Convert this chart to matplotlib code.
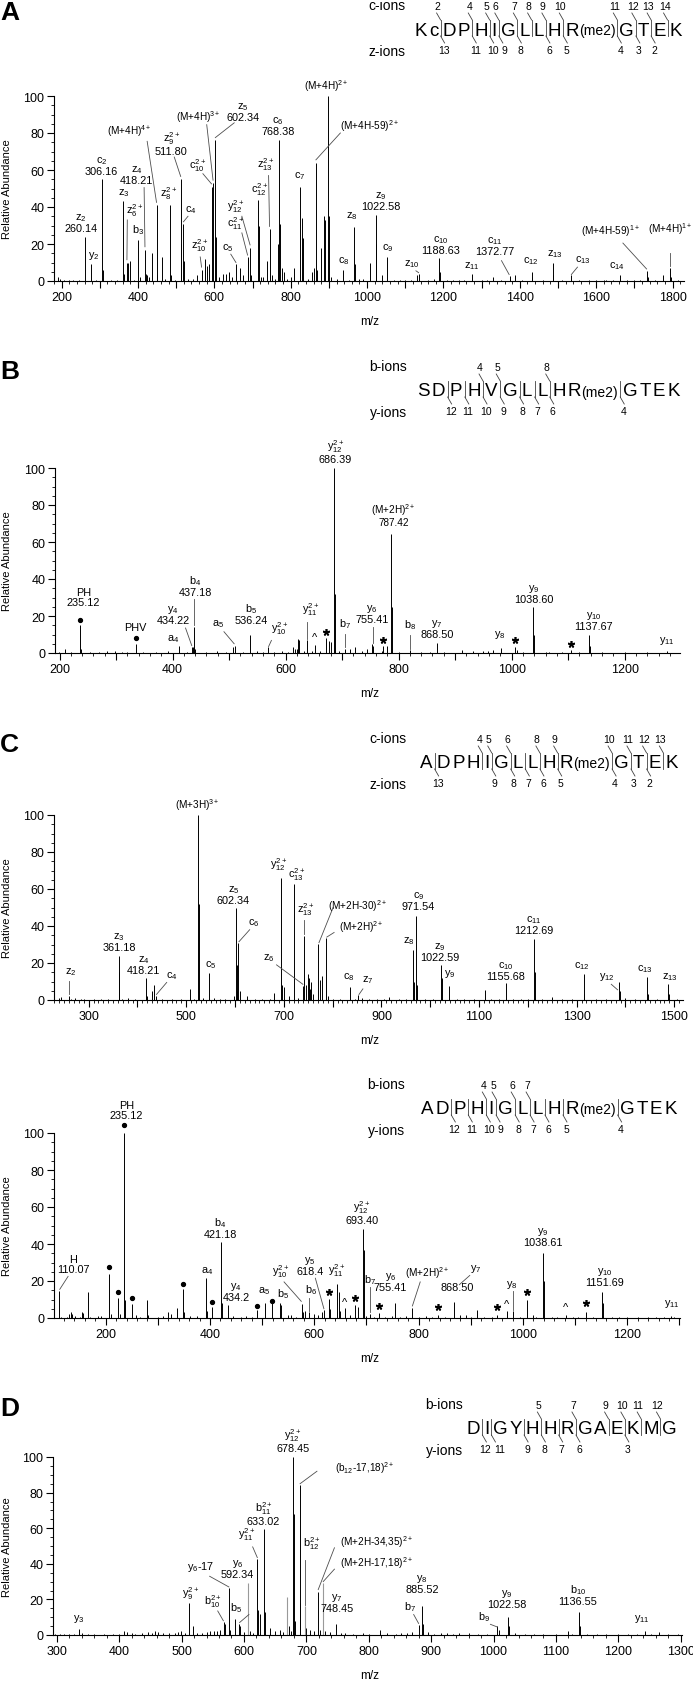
import matplotlib
matplotlib.use("Agg")
import matplotlib.pyplot as plt
from matplotlib.ticker import MultipleLocator, FuncFormatter

plt.rcParams['font.family'] = ['Liberation Sans', 'DejaVu Sans']
plt.rcParams['mathtext.fontset'] = 'custom'
plt.rcParams['mathtext.rm'] = 'Liberation Sans'
plt.rcParams['mathtext.it'] = 'Liberation Sans:italic'
plt.rcParams['mathtext.bf'] = 'Liberation Sans:bold'
plt.rcParams['mathtext.default'] = 'regular'

# ---------------- panel A (ETD, KcDPHIGLLHR(me2)GTEK) ----------------
a_peaks = [
    (191, 2), (196, 1.2), (205, 0.6), (218, 0.4), (230, 0.5), (245, 0.6),
    (260.14, 24), (276.5, 9), (290, 0.5), (306.16, 55), (309, 6), (330, 0.8), (345, 0.5),
    (361.5, 43), (364, 4), (370.5, 10), (374, 10), (378, 11), (390, 0.6),
    (400.5, 22), (404, 2), (418.21, 17), (421, 4), (424, 3), (428, 2), (435.5, 15),
    (448.5, 41), (451, 3), (462.5, 13), (470, 1), (484.5, 41), (487, 3), (498, 0.8),
    (511.8, 55), (513, 20), (518.5, 31), (520, 11), (530, 1), (545, 1), (555, 3), (566.5, 6),
    (576, 12), (582, 8), (585, 9), (592.5, 51), (596.5, 53), (602.34, 76), (604, 24), (612, 2),
    (622, 4), (630, 4), (638, 5), (646, 2), (656.5, 9), (666, 7), (675, 3), (687, 13), (689, 12),
    (693.5, 18), (696, 3), (715, 44), (717, 30), (722, 2), (727, 2), (739, 11), (744.5, 28),
    (747, 3), (752, 3), (760, 1), (766, 20), (768.38, 76), (771, 31), (778, 7), (782, 5), (790, 1),
    (800, 2), (808.5, 7), (824.5, 51), (829, 34), (832, 23), (845, 1), (855, 5), (860, 7),
    (866, 64), (869, 6), (878, 18), (887, 35), (891, 33), (897, 100), (899, 35), (905, 2), (920, 1),
    (938, 6), (952, 0.8), (966, 29.4), (967.5, 9), (980, 1), (990, 1), (1008, 9.5), (1022.58, 35.5),
    (1024, 20), (1038, 3), (1051.5, 13), (1070, 0.8), (1085, 0.5), (1100, 0.6), (1115, 0.5),
    (1130, 3), (1136, 4), (1160, 0.8), (1175, 1), (1189, 12.6), (1191, 5), (1210, 0.5), (1225, 0.5),
    (1240, 0.6), (1255, 0.4), (1274, 3.6), (1300, 0.5), (1315, 0.4), (1330, 2), (1350, 0.5),
    (1373, 2.7), (1387, 3), (1405, 0.5), (1431, 5), (1433, 2), (1460, 0.5), (1486, 9.5), (1488, 3),
    (1510, 0.5), (1533, 3), (1555, 0.4), (1580, 0.5), (1600, 0.4), (1620, 0.8), (1625, 0.6),
    (1645, 0.4), (1662, 3), (1680, 0.4), (1700, 0.6), (1715, 0.5), (1733.5, 5.4), (1736, 2),
    (1755, 0.5), (1775, 3.4), (1793, 7), (1795, 2), (1815, 0.4),
]
# (text, x, y, leader) - leader is (x0, y0, x1, y1) or None
a_labels = [
    ("z$_2$\n260.14", 250, 26, None),
    ("y$_2$", 283, 11, None),
    ("c$_2$\n306.16", 304, 57, None),
    ("z$_3$", 362, 45, None),
    ("z$_6^{2+}$", 392, 34, (372, 33, 371, 11.5)),
    ("b$_3$", 400, 24.5, None),
    ("z$_4$\n418.21", 397, 52, (416, 50.5, 418.2, 18.5)),
    ("(M+4H)$^{4+}$", 377, 77.5, (424, 75.5, 448.5, 42.5)),
    ("z$_9^{2+}$\n511.80", 487, 67.5, (495, 67, 511.8, 56.5)),
    ("z$_8^{2+}$", 481, 43, None),
    ("c$_4$", 538, 35.5, (531, 35, 519, 32)),
    ("c$_{10}^{2+}$", 555, 58.5, (570, 58, 592.5, 52.5)),
    ("(M+4H)$^{3+}$", 557, 85, (580, 84.5, 596.5, 54.5)),
    ("z$_5$\n602.34", 675, 86, (652, 85.5, 602.5, 77.5)),
    ("c$_6$\n768.38", 767, 78.5, None),
    ("z$_{10}^{2+}$", 561, 15.3, (563, 13, 566.5, 7.5)),
    ("c$_5$", 634, 15, (643, 14.5, 656.5, 10)),
    ("c$_{11}^{2+}$", 656, 27, (672, 26, 687, 14)),
    ("y$_{12}^{2+}$", 656, 36, (672, 35, 693.5, 19.5)),
    ("c$_{12}^{2+}$", 719, 45.5, None),
    ("z$_{13}^{2+}$", 734, 59, (742, 57, 744.5, 29.5)),
    ("c$_7$", 823, 54, None),
    ("(M+4H)$^{2+}$", 894, 101.5, None),
    ("(M+4H-59)$^{2+}$", 1005, 80, (930, 80, 866, 65.5)),
    ("c$_8$", 938, 8, None),
    ("z$_8$", 961, 32.5, None),
    ("z$_9$\n1022.58", 1035, 38, None),
    ("c$_9$", 1053, 15.3, None),
    ("z$_{10}$", 1118, 6.7, (1128, 5.5, 1135, 4.5)),
    ("c$_{10}$\n1188.63", 1192, 14, None),
    ("z$_{11}$", 1274, 5.4, None),
    ("c$_{11}$\n1372.77", 1334, 13.5, (1352, 11, 1372, 3.5)),
    ("c$_{12}$", 1430, 8, None),
    ("z$_{13}$", 1491, 12, None),
    ("c$_{13}$", 1566, 8.5, (1551, 7.5, 1535, 3.5)),
    ("c$_{14}$", 1655, 5.4, None),
    ("(M+4H-59)$^{1+}$", 1636, 23.4, (1670, 20.5, 1732, 6.5)),
    ("(M+4H)$^{1+}$", 1795, 24.3, (1793, 15, 1793, 8)),
]
a_residues = ["K", "c", "D", "P", "H", "I", "G", "L", "L", "H", "R(me2)", "G", "T", "E", "K"]
a_top_ions = [2, 4, 5, 6, 7, 8, 9, 10, 11, 12, 13, 14]
a_bottom_ions = [13, 11, 10, 9, 8, 6, 5, 4, 3, 2]

# ---------------- panel B (CID, SDPHVGLLHR(me2)GTEK) ----------------
b_peaks = [
    (199, 0.5), (209.8, 2), (220, 0.5), (236, 15), (238, 2), (254, 0.5), (270, 0.4),
    (283.6, 1), (298.3, 1), (310, 0.4), (320, 0.5), (335.4, 5), (348.3, 0.5), (370, 0.4),
    (392.6, 1), (411.5, 4), (425, 0.5), (434.22, 3), (436, 3), (437.18, 14), (440, 2),
    (460, 0.5), (478.3, 1), (495, 0.5), (507.6, 3), (510.6, 4), (525, 0.5), (536.24, 10),
    (549, 1), (560, 0.5), (569.6, 3), (580, 0.5), (593.3, 1), (605, 0.8), (613.8, 3),
    (616.8, 2), (619.8, 2), (622.7, 7.5), (624.5, 7), (632, 1), (638.6, 7.2), (646.4, 1),
    (652.2, 4.5), (661, 1), (671.7, 8), (677.5, 6.5), (680, 6), (686.39, 100), (687.3, 32),
    (695, 1), (705.3, 2.3), (714.2, 2), (723, 3), (734.9, 1), (743.7, 2), (752.6, 5),
    (755.41, 4), (770.3, 1), (773.1, 4), (779.1, 4), (787.42, 64.5), (788.4, 25), (800, 0.5),
    (820.4, 1.4), (840, 0.5), (855, 0.4), (868.5, 5.6), (880, 0.5), (911.9, 1.5), (932.4, 1),
    (950.1, 1), (958.9, 1), (967.8, 1.5), (981.4, 2.7), (1006.2, 3), (1009.2, 1.5), (1020, 0.5),
    (1038.6, 24.9), (1039.6, 10), (1060, 0.5), (1066, 0.5), (1090, 0.4), (1104.8, 1.5),
    (1120, 0.4), (1137.67, 10), (1138.7, 4), (1160, 0.4), (1200, 0.3), (1240, 0.4), (1274.7, 1.1),
]
b_labels = [
    ("PH\n235.12", 242, 25, None),
    ("PHV", 333.6, 11.5, None),
    ("a$_4$", 401, 5, None),
    ("y$_4$\n434.22", 401, 15, (423, 13.5, 434, 4)),
    ("b$_4$\n437.18", 440, 30.3, (437.18, 29, 437.18, 15)),
    ("a$_5$", 481, 13, (491, 11.5, 509, 5)),
    ("b$_5$\n536.24", 538.4, 15.3, None),
    ("y$_{10}^{2+}$", 590, 9, (575, 6.8, 570, 3.5)),
    ("y$_{11}^{2+}$", 643.4, 19.5, (638.6, 16.5, 638.6, 7.7)),
    ("y$_{12}^{2+}$\n686.39", 687.6, 102.3, None),
    ("b$_7$", 705.3, 12.3, (705.3, 10.5, 705.3, 3)),
    ("y$_6$\n755.41", 752.6, 15.9, (755, 14, 755, 5.5)),
    ("(M+2H)$^{2+}$\n787.42", 790.8, 68, None),
    ("b$_8$", 820.4, 11.7, (820.4, 9.5, 820.4, 2)),
    ("y$_7$\n868.50", 867.6, 7.7, None),
    ("y$_8$", 979.6, 6.8, None),
    ("y$_9$\n1038.60", 1040, 26.7, None),
    ("y$_{10}$\n1137.67", 1145, 11.7, None),
    ("y$_{11}$", 1274.7, 3.8, None),
]
b_stars = [(671.7, 11.4), (771.8, 6.8), (1006.5, 6.8), (1104.8, 5)]
b_carets = [(652.2, 8.6)]
b_dots = [(236, 17.8), (335.4, 8.1)]
b_residues = ["S", "D", "P", "H", "V", "G", "L", "L", "H", "R(me2)", "G", "T", "E", "K"]
b_top_ions = [4, 5, 8]
b_bottom_ions = [12, 11, 10, 9, 8, 7, 6, 4]

# ---------------- panel C, ETD (ADPHIGLLHR(me2)GTEK) ----------------
c_peaks = [
    (238.4, 1), (244, 1.5), (258.8, 2.3), (263, 0.5), (272, 1), (285, 0.5), (290, 0.8),
    (310, 0.5), (325, 0.8), (340, 0.5), (361.18, 24), (362.5, 15), (368, 0.5), (380, 1),
    (395, 0.5), (418.21, 12), (419.5, 2), (429.5, 5), (434.3, 8), (437.5, 2), (450, 0.5),
    (470, 0.8), (490, 0.5), (507.9, 6), (515, 0.5), (524.9, 100), (525.8, 52), (535, 1),
    (546, 14.6), (556, 1), (570, 0.5), (580, 0.8), (598, 2), (602.34, 49.5), (603.7, 19),
    (605, 5), (606.8, 31), (609.5, 5), (625, 2), (640, 0.8), (656, 0.5), (671, 0.8), (680, 4),
    (693.6, 65.8), (697, 8), (700, 7), (710, 2), (721.5, 62.7), (730, 1), (740, 7.7),
    (742, 34.7), (745.5, 8), (748.5, 14), (751.5, 12), (754, 6), (756, 10), (760, 3),
    (770.6, 30.3), (775, 11), (778, 13), (786.4, 33.3), (790, 2), (800, 0.5), (815, 0.8),
    (835, 7.2), (845, 0.8), (852.6, 2.7), (860, 1), (875, 0.5), (890, 0.8), (905, 0.5),
    (916, 1.5), (935, 0.5), (950, 0.8), (965.1, 27), (966.5, 10), (971.54, 45.6), (973, 8),
    (990, 0.5), (1005, 0.8), (1022.59, 18.9), (1024, 12), (1038.8, 7.7), (1055, 0.5),
    (1070, 0.8), (1090, 0.5), (1112.9, 5.6), (1125, 0.5), (1140, 0.8), (1155.68, 9),
    (1170, 0.8), (1185, 0.5), (1200, 0.5), (1212.69, 33), (1214, 15), (1230, 0.5), (1250, 1.5),
    (1270, 0.5), (1290, 0.5), (1314.5, 14), (1316, 3), (1340, 0.5), (1360, 0.5), (1386.7, 10),
    (1389, 5), (1400, 1), (1420, 0.5), (1444.7, 12.4), (1447, 3), (1465, 0.5), (1486.9, 8.6),
    (1489, 3), (1505, 0.5),
]
c_labels = [
    ("z$_2$", 264, 12.3, (258.8, 10.5, 258.8, 3)),
    ("z$_3$\n361.18", 362.6, 26, None),
    ("z$_4$\n418.21", 412.4, 13.5, None),
    ("c$_4$", 470.5, 10.5, (460, 9.5, 439, 3)),
    ("(M+3H)$^{3+}$", 523, 101.8, None),
    ("c$_5$", 550.3, 16.4, None),
    ("z$_5$\n602.34", 596.6, 51.4, None),
    ("c$_6$", 639, 38.7, (630, 38, 608, 31.5)),
    ("z$_6$", 668.3, 20, (685, 19, 739, 8.5)),
    ("y$_{12}^{2+}$", 688.7, 69.4, None),
    ("c$_{13}^{2+}$", 726.4, 63.6, None),
    ("z$_{13}^{2+}$", 745.4, 45, (742, 43.5, 742, 35.5)),
    ("(M+2H-30)$^{2+}$", 851, 47, (801, 50, 772, 31)),
    ("(M+2H)$^{2+}$", 858, 35.5, (803, 36.5, 788, 34)),
    ("c$_8$", 833.3, 9.5, None),
    ("z$_7$", 872.8, 8.1, (862, 6, 854, 3)),
    ("c$_9$\n971.54", 975.5, 48.3, None),
    ("z$_8$", 956.2, 29.4, None),
    ("z$_9$\n1022.59", 1019.8, 20.7, None),
    ("y$_9$", 1040.3, 11.4, None),
    ("c$_{10}$\n1155.68", 1154.5, 10.5, None),
    ("c$_{11}$\n1212.69", 1212, 35.1, None),
    ("c$_{12}$", 1309.8, 15.9, None),
    ("y$_{12}$", 1361, 9.5, (1371, 8.5, 1384, 5.5)),
    ("c$_{13}$", 1439.4, 14, None),
    ("z$_{13}$", 1490.5, 9.5, None),
]
c_residues = ["A", "D", "P", "H", "I", "G", "L", "L", "H", "R(me2)", "G", "T", "E", "K"]
c_top_ions = [4, 5, 6, 8, 9, 10, 11, 12, 13]
c_bottom_ions = [13, 9, 8, 7, 6, 5, 4, 3, 2]

# ---------------- panel C, CID (ADPHIGLLHR(me2)GTEK) ----------------
c2_peaks = [
    (110.6, 14.4), (115, 0.5), (125, 0.8), (130, 2), (133, 3), (136, 2), (142, 1), (150, 0.5),
    (155, 3), (157, 2.5), (166.2, 13.8), (170, 0.5), (185, 1), (191, 1), (205.6, 24), (210, 2),
    (222.9, 11), (228, 2), (235.12, 100), (237, 10), (250.4, 7.5), (259, 1.5), (265, 0.5),
    (279.2, 10), (282, 1.5), (300, 0.5), (310, 1), (320, 3), (326, 2), (336.6, 5.4),
    (348.1, 15.7), (350, 3), (362, 1), (375, 1), (392.7, 21.5), (394.5, 4), (404.8, 5.8),
    (421.18, 41), (423, 8), (434.2, 7.2), (445, 1), (460, 0.5), (470, 1), (480, 0.5),
    (489.8, 4.3), (505.7, 8), (518.5, 8), (534.4, 8), (536, 7), (550, 1.5), (556, 1.5),
    (565, 0.8), (575.9, 7.6), (579, 3), (582, 4), (590, 3.4), (600, 2), (607, 1.5), (615, 3),
    (618.4, 4.3), (628.8, 10.5), (631, 5), (644.2, 18.5), (647, 14), (650, 4), (658.9, 5.6),
    (668, 1.5), (678.1, 7), (683, 6), (693.4, 48), (694.5, 37), (700, 1), (706.8, 2.2),
    (715, 0.8), (724.6, 2.5), (735, 0.8), (748, 1), (755.41, 8), (765, 0.8), (775, 1),
    (787, 5.2), (800, 0.5), (815, 1), (826, 0.5), (837.6, 1.6), (850, 0.5), (868.5, 8.5),
    (880, 1.5), (890, 1.5), (900, 0.5), (911.1, 4.5), (925, 0.5), (940, 0.8), (950.6, 1.5),
    (968.5, 4), (980, 4), (995, 0.5), (1008, 10), (1020, 1.5), (1025, 0.5), (1038.61, 35.2),
    (1039.8, 20), (1055, 0.5), (1065, 0.5), (1082.1, 1.5), (1095, 0.5), (1105, 0.5),
    (1120.4, 3), (1135, 0.5), (1151.69, 14), (1153, 8), (1170, 0.5), (1185, 0.5), (1200, 0.5),
    (1220, 0.5), (1240, 0.5), (1255, 0.5), (1270, 0.5), (1283, 1.3), (1290, 0.5),
]
c2_labels = [
    ("H\n110.07", 137.5, 23.8, (128, 22.5, 112, 15.5)),
    ("PH\n235.12", 239.5, 106.9, None),
    ("a$_4$", 394, 22.9, None),
    ("b$_4$\n421.18", 419.5, 42.8, None),
    ("y$_4$\n434.2", 450, 8.5, None),
    ("a$_5$", 504.4, 12.1, None),
    ("b$_5$", 539.6, 9.9, None),
    ("y$_{10}^{2+}$", 534.4, 21.1, (542, 19.5, 575, 9)),
    ("y$_5$\n618.4", 592, 22.6, (602, 21.5, 618.4, 5)),
    ("b$_6$", 593.8, 12, (590, 11, 590, 4)),
    ("y$_{11}^{2+}$", 643, 21.5, None),
    ("y$_{12}^{2+}$\n693.40", 691, 50, None),
    ("b$_7$", 706.8, 17.5, (706.8, 17, 706.8, 3)),
    ("y$_6$\n755.41", 746, 13.9, None),
    ("(M+2H)$^{2+}$", 817, 20.5, (803, 19.5, 788, 6.5)),
    ("868.50", 873, 14, None),
    ("y$_7$", 910, 23.8, (898, 23, 878, 18)),
    ("y$_8$", 977.7, 15.3, (980, 14.5, 980, 4.5)),
    ("y$_9$\n1038.61", 1038.7, 38.3, None),
    ("y$_{10}$\n1151.69", 1157, 16.6, None),
    ("y$_{11}$", 1284.5, 4.9, None),
]
c2_stars = [(628.8, 13.9), (678.1, 10.6), (724.6, 6.7), (837.6, 5.8), (950.6, 5.8),
            (1008, 13.9), (1120.4, 8.1)]
c2_carets = [(658.9, 8.5), (968.5, 7.6), (1082.1, 5.8)]
c2_dots = [(205.6, 27.8), (222.9, 13.9), (235.12, 104.5), (250.4, 11), (348.1, 18.6),
           (404.8, 8.8), (489.8, 6.7), (518.5, 9.2)]
c2_residues = ["A", "D", "P", "H", "I", "G", "L", "L", "H", "R(me2)", "G", "T", "E", "K"]
c2_top_ions = [4, 5, 6, 7]
c2_bottom_ions = [12, 11, 10, 9, 8, 7, 6, 5, 4]

# ---------------- panel D (DIGYHHRGAEKMG) ----------------
d_peaks = [
    (298, 0.8), (305, 0.5), (312, 0.4), (320, 0.6), (328, 0.5), (335.1, 3.4), (340, 1),
    (350, 0.5), (360, 0.5), (375, 0.8), (390, 0.6), (400, 0.5), (407.8, 2), (413, 1.5),
    (420, 1), (425, 0.8), (437, 1), (447, 1.5), (452, 1), (457.6, 2.5), (462, 1.5), (470, 1),
    (480, 1), (490, 1.2), (495, 1.5), (499.2, 2), (505, 1), (511.6, 17.8), (518, 5), (525, 1),
    (532, 1), (540, 1.5), (545, 2), (552, 2), (557, 2.5), (562, 3), (568.3, 7.3), (570, 6),
    (575.8, 26.2), (578, 3), (585.9, 8.8), (592.34, 6), (594, 5), (600, 1.5), (609, 2),
    (615, 1), (621.4, 42.5), (623, 14), (625, 12), (632.9, 59.7), (634, 13), (642, 4), (650, 2),
    (658, 3), (663, 1.5), (672, 5), (675, 2), (678.45, 100), (679.5, 68), (682, 8),
    (689.1, 84), (690.5, 18), (700, 4), (706, 3), (712, 2), (718.5, 24.2), (722, 3), (730, 2),
    (738, 1.5), (747.9, 6), (755, 1), (762, 1), (775, 0.8), (790, 1), (800, 0.8), (817.4, 3),
    (830, 1), (843, 0.8), (851, 1), (862, 1), (870, 1.5), (879.9, 5.6), (885.3, 16.3),
    (887, 6), (895, 1.5), (905, 0.8), (915, 1), (925, 1), (935, 0.8), (945, 1), (960, 1),
    (975, 0.8), (990, 0.8), (1006.3, 5), (1008, 3), (1022.58, 10.3), (1024, 5), (1035, 1),
    (1050, 0.6), (1065, 0.8), (1080, 0.5), (1100, 0.8), (1119, 2), (1125, 0.5),
    (1136.55, 13), (1138, 5), (1150, 0.6), (1165, 0.8), (1180, 0.5), (1200, 0.8), (1215, 0.5),
    (1230, 0.6), (1242, 2.2), (1252, 0.6), (1264.9, 1.5), (1280, 0.5), (1295, 0.5),
]
d_gray_peaks = [(606.3, 29.4), (668.8, 21.5), (698.2, 16.3), (726.6, 29)]
d_labels = [
    ("y$_3$", 335.6, 6, None),
    ("y$_9^{2+}$", 514.8, 19, None),
    ("b$_{10}^{2+}$", 550, 14.8, (558, 13.5, 567, 8)),
    ("y$_6$-17", 530, 35, (545, 33, 575.8, 27)),
    ("b$_5$", 587.5, 11.6, None),
    ("y$_6$\n592.34", 589.6, 31.3, (608, 11.5, 593, 7)),
    ("y$_{11}^{2+}$", 603.6, 52.2, (614, 49.5, 621.4, 43.5)),
    ("b$_{11}^{2+}$\n633.02", 631.3, 61.2, None),
    ("y$_{12}^{2+}$\n678.45", 678.45, 102, None),
    ("(b$_{12}$-17,18)$^{2+}$", 794, 90, (717, 92, 690, 85)),
    ("b$_{12}^{2+}$", 709, 47.2, (698.2, 42, 698.2, 17)),
    ("(M+2H-34,35)$^{2+}$", 813, 48.5, (745, 49, 719, 25.5)),
    ("(M+2H-17,18)$^{2+}$", 813, 36.5, (745, 37, 727, 30)),
    ("y$_7$\n748.45", 749, 12.5, None),
    ("y$_8$\n885.52", 885.3, 22.8, None),
    ("b$_7$", 866.6, 12.5, (872, 11.5, 879.9, 6.5)),
    ("y$_9$\n1022.58", 1021.7, 14.4, None),
    ("b$_9$", 984.2, 6.9, (995, 6, 1006, 4.5)),
    ("b$_{10}$\n1136.55", 1135, 16.3, None),
    ("y$_{11}$", 1238.3, 6, None),
]
d_residues = ["D", "I", "G", "Y", "H", "H", "R", "G", "A", "E", "K", "M", "G"]
d_top_ions = [5, 7, 9, 10, 11, 12]
d_bottom_ions = [12, 11, 9, 8, 7, 6, 3]

W, H = 693, 1683
fig = plt.figure(figsize=(W / 100, H / 100), dpi=100)
ov = fig.add_axes([0, 0, 1, 1], zorder=5)
ov.set_xlim(0, W)
ov.set_ylim(H, 0)
ov.axis('off')
LAB_FS = 7.8


def spectrum(left, right, y0, y100, peaks, xlim, lab_every, lab_from, minor,
             labels, stars=(), carets=(), dots=(), gray=()):
    ax = fig.add_axes([left / W, 1 - y0 / H, (right - left) / W, (y0 - y100) / H])
    ax.vlines([p[0] for p in peaks], 0, [p[1] for p in peaks], colors='black', linewidth=0.7)
    if gray:
        ax.vlines([p[0] for p in gray], 0, [p[1] for p in gray], colors='0.6', linewidth=0.8)
    ax.set_xlim(*xlim)
    ax.set_ylim(0, 100)
    for s in ('top', 'right'):
        ax.spines[s].set_visible(False)
    for s in ('left', 'bottom'):
        ax.spines[s].set_linewidth(0.8)
    ax.xaxis.set_major_locator(MultipleLocator(100))
    ax.xaxis.set_minor_locator(MultipleLocator(minor))
    ax.xaxis.set_major_formatter(FuncFormatter(
        lambda v, p: str(int(round(v))) if (int(round(v)) - lab_from) % lab_every == 0 else ""))
    ax.yaxis.set_major_locator(MultipleLocator(20))
    ax.yaxis.set_minor_locator(MultipleLocator(5))
    ax.tick_params(which='major', direction='out', length=5, width=0.8, labelsize=9, pad=2)
    ax.tick_params(which='minor', direction='out', length=2.5, width=0.6)
    for text, x, y, lead in labels:
        fs = 7.2 if text.startswith('(') else LAB_FS
        ax.text(x, y, text, ha='center', va='bottom', fontsize=fs, linespacing=1.0, clip_on=False)
        if lead:
            ax.plot([lead[0], lead[2]], [lead[1], lead[3]], color='0.3', lw=0.6, clip_on=False)
    for x, y in stars:
        ax.plot(x, y, marker=(5, 2, 0), ms=5, mew=1.2, color='black', ls='none', clip_on=False)
    for x, y in carets:
        ax.text(x, y, '^', ha='center', va='center', fontsize=8, clip_on=False)
    for x, y in dots:
        ax.plot(x, y, 'o', ms=2.8, color='black', clip_on=False)
    ov.text(7, (y0 + y100) / 2, "Relative Abundance", rotation=90, fontsize=8,
            ha='center', va='center')
    ov.text(370, y0 + 40, "m/z", fontsize=8.5, ha='center', va='center')
    return ax


def place_numbers(entries, y):
    # entries: (x, text); keep neighbouring ion numbers from running together
    prev_right = None
    for x, s in entries:
        half = 3.0 * len(s)
        if prev_right is not None and x - half < prev_right + 2.5:
            x = prev_right + 2.5 + half
        ov.text(x, y, s, fontsize=7.5, ha='center', va='center')
        prev_right = x + half


def sequence(residues, top_ions, bottom_ions, left, right, yc, top_name, bottom_name, name_x):
    n = len(residues)
    cut_top = set(top_ions)
    cut_bot = set(n - k for k in bottom_ions)
    renderer = fig.canvas.get_renderer()
    base = yc + 6.5
    items = []
    for r in residues:
        main, mod = r[0], r[1:]
        t = ov.text(0, base, main, fontsize=13.5, ha='left', va='baseline')
        w = t.get_window_extent(renderer).width
        tm, wm = None, 0
        if mod:
            tm = ov.text(0, base, mod, fontsize=10, ha='left', va='baseline')
            wm = tm.get_window_extent(renderer).width
        items.append((t, w, tm, wm))
    total = sum(i[1] + i[3] for i in items)
    weights = [2.2 if (k in cut_top or k in cut_bot) else 1 for k in range(1, n)]
    unit = (right - left - total) / sum(weights)
    x = left
    tops, bots = [], []
    for idx, (t, w, tm, wm) in enumerate(items):
        t.set_x(x)
        x += w
        if tm is not None:
            tm.set_x(x)
            x += wm
        if idx < n - 1:
            k = idx + 1
            gap = weights[idx] * unit
            xv = x + gap / 2
            if k in cut_top or k in cut_bot:
                ov.plot([xv, xv], [yc - 8, yc + 8], color='0.25', lw=0.6)
            if k in cut_top:
                ov.plot([xv - 4, xv], [yc - 15, yc - 8], color='0.25', lw=0.6)
                tops.append((xv - 3, str(k)))
            if k in cut_bot:
                ov.plot([xv, xv + 4], [yc + 8, yc + 15], color='0.25', lw=0.6)
                bots.append((xv + 3, str(n - k)))
            x += gap
    place_numbers(tops, yc - 22)
    place_numbers(bots, yc + 22)
    ov.text(name_x, yc - 23, top_name, fontsize=10, ha='center', va='center')
    ov.text(name_x, yc + 23, bottom_name, fontsize=10, ha='center', va='center')


spectrum(54, 684, 282, 97, a_peaks, (180, 1830), 200, 0, 20, a_labels)
spectrum(55, 680, 654, 469, b_peaks, (192, 1298), 200, 0, 20, b_labels,
         b_stars, b_carets, b_dots)
spectrum(54, 683, 1001, 816, c_peaks, (229, 1518), 200, 300, 10, c_labels)
spectrum(54, 680, 1319, 1134, c2_peaks, (101, 1301), 200, 0, 20, c2_labels,
         c2_stars, c2_carets, c2_dots)
spectrum(53, 682, 1636, 1458, d_peaks, (294, 1302), 100, 0, 20, d_labels, gray=d_gray_peaks)

sequence(a_residues, a_top_ions, a_bottom_ions, 415, 682, 29, "c-ions", "z-ions", 387)
sequence(b_residues, b_top_ions, b_bottom_ions, 417, 680, 390, "b-ions", "y-ions", 388)
sequence(c_residues, c_top_ions, c_bottom_ions, 420, 678, 762, "c-ions", "z-ions", 388)
sequence(c2_residues, c2_top_ions, c2_bottom_ions, 421, 677, 1108, "b-ions", "y-ions", 386)
sequence(d_residues, d_top_ions, d_bottom_ions, 467, 677, 1428, "b-ions", "y-ions", 444)

for letter, y in (("A", 13), ("B", 372), ("C", 745), ("D", 1409)):
    ov.text(0, y, letter, fontsize=19, fontweight='bold', ha='left', va='center')

fig.savefig("out.png", dpi=100)
